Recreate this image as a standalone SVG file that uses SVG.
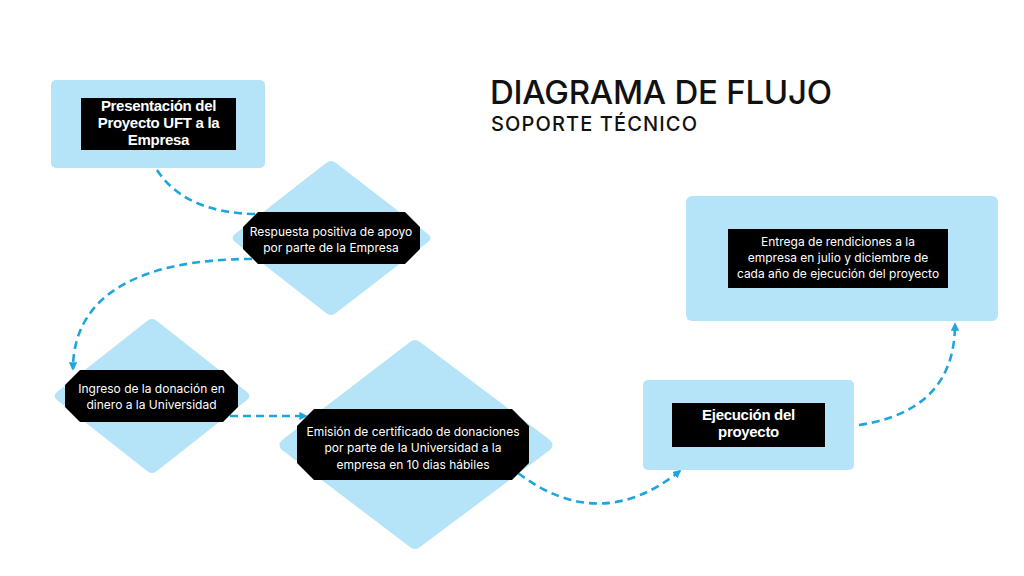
<svg xmlns="http://www.w3.org/2000/svg" width="1024" height="576" viewBox="0 0 1024 576">
<defs>
<style>
.box{fill:#b5e4f8}
.lbl{fill:#000}
.t{font-family:Inter,"Liberation Sans",Arial,sans-serif;fill:#fff;font-size:12px;text-anchor:middle}
.tb{font-family:"Liberation Sans",Arial,sans-serif;fill:#fff;font-size:15px;font-weight:bold;text-anchor:middle;letter-spacing:-0.3px}
.title{font-family:Inter,"Liberation Sans",Arial,sans-serif;fill:#111;font-weight:500}
.con{fill:none;stroke:#1ea5df;stroke-width:2.6;stroke-dasharray:8 5}
</style>
<marker id="arr" viewBox="0 0 10 10" refX="8" refY="5" markerWidth="3.2" markerHeight="3.2" orient="auto" markerUnits="strokeWidth">
<path d="M0,0 L10,5 L0,10 z" fill="#1ea5df"/>
</marker>
</defs>
<rect width="1024" height="576" fill="#fff"/>

<g id="title">
<text class="title" x="490" y="104" font-size="33" textLength="342">DIAGRAMA DE FLUJO</text>
<text class="title" x="491" y="131" font-size="20" textLength="206">SOPORTE TÉCNICO</text>
</g>

<g id="connectors">
<path class="con" d="M157,170 Q185,213 256,214"/>
<path class="con" d="M252,259 C140,259 73,295 73,369" marker-end="url(#arr)"/>
<path class="con" d="M230,416 L306,416" marker-end="url(#arr)"/>
<path class="con" d="M518,473 Q600,535 680,471" marker-end="url(#arr)"/>
<path class="con" d="M859,425 C925,415 955,380 955,324" marker-end="url(#arr)"/>
</g>

<g id="n1">
<rect class="box" x="51" y="80" width="214" height="88" rx="5"/>
<rect class="lbl" x="81" y="98" width="155" height="52"/>
<text class="tb" x="158.5" y="111">Presentación del</text>
<text class="tb" x="158.5" y="128">Proyecto UFT a la</text>
<text class="tb" x="158.5" y="145">Empresa</text>
</g>

<g id="n2">
<path class="box" d="M326,163 Q331,159 336,163 L428,234 Q433,238 428,242 L336,313 Q331,317 326,313 L235,242 Q230,238 235,234 Z"/>
<path class="lbl" d="M258,212 L405,212 L420,227 L420,249 L405,264 L258,264 L243,249 L243,227 Z"/>
<text class="t" x="331" y="236">Respuesta positiva de apoyo</text>
<text class="t" x="331" y="252">por parte de la Empresa</text>
</g>

<g id="n3">
<path class="box" d="M147,321 Q152,317 157,321 L247,392 Q252,396 247,400 L157,471 Q152,475 147,471 L57,400 Q52,396 57,392 Z"/>
<path class="lbl" d="M80,370 L223,370 L238,385 L238,407 L223,422 L80,422 L65,407 L65,385 Z"/>
<text class="t" x="151.5" y="393">Ingreso de la donación en</text>
<text class="t" x="151.5" y="409">dinero a la Universidad</text>
</g>

<g id="n4">
<path class="box" d="M410,342 Q415,338 420,342 L550,440 Q555,445 550,450 L420,547 Q415,551 410,547 L282,450 Q277,445 282,440 Z"/>
<path class="lbl" d="M314,409 L512,409 L529,426 L529,463 L512,480 L314,480 L297,463 L297,426 Z"/>
<text class="t" x="413" y="436">Emisión de certificado de donaciones</text>
<text class="t" x="413" y="452">por parte de la Universidad a la</text>
<text class="t" x="413" y="469">empresa en 10 dias hábiles</text>
</g>

<g id="n5">
<rect class="box" x="643" y="380" width="211" height="90" rx="5"/>
<rect class="lbl" x="672" y="403" width="153" height="44"/>
<text class="tb" x="748.5" y="420">Ejecución del</text>
<text class="tb" x="748.5" y="437">proyecto</text>
</g>

<g id="n6">
<rect class="box" x="686" y="196" width="312" height="125" rx="6"/>
<rect class="lbl" x="728" y="229" width="220" height="59"/>
<text class="t" x="838" y="246">Entrega de rendiciones a la</text>
<text class="t" x="838" y="262">empresa en julio y diciembre de</text>
<text class="t" x="838" y="278">cada año de ejecución del proyecto</text>
</g>
</svg>
